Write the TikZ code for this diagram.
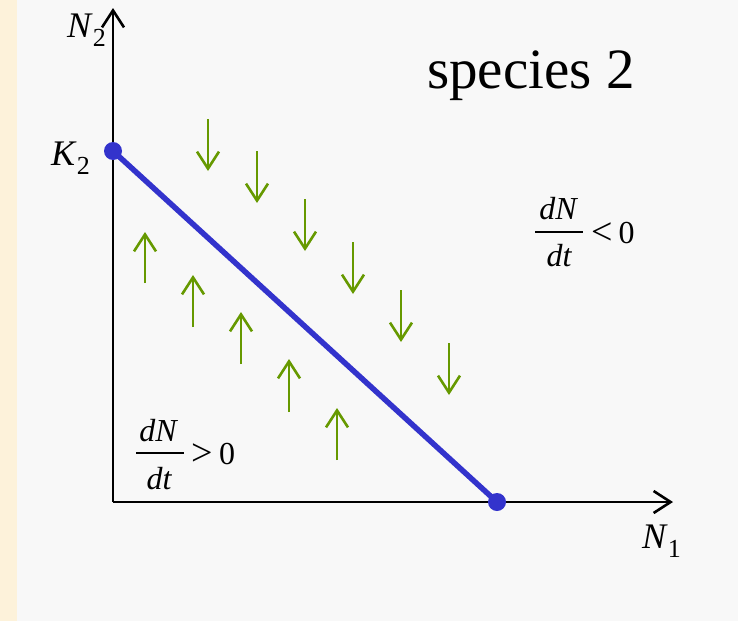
\documentclass[tikz,border=0pt]{standalone}
\usepackage{fontspec}
\setmainfont{Liberation Serif}
\usetikzlibrary{arrows.meta}
\definecolor{bgA}{HTML}{F8F8F8}
\definecolor{strip}{HTML}{FDF2DA}
\definecolor{lineblue}{HTML}{3333CC}
\definecolor{agreen}{HTML}{669900}
\tikzset{
  axis/.style={line width=2.6pt, black, -{Straight Barb[length=17pt,width=22pt]}},
  garrow/.style={line width=2.6pt, agreen, -{Straight Barb[length=17pt,width=22pt]}},
  iso/.style={line width=5.5pt, lineblue},
  dot/.style={circle, fill=lineblue, inner sep=0pt, minimum size=18pt},
  lbl/.style={inner sep=0pt, anchor=base west, font=\fontsize{36}{40}\selectfont},
  fracpart/.style={inner sep=0pt, anchor=base, font=\fontsize{32}{36}\selectfont\itshape},
  relpart/.style={inner sep=0pt, anchor=base, font=\fontsize{32}{36}\selectfont},
  relsym/.style={inner sep=0pt, anchor=base, font=\fontsize{38}{42}\selectfont},
  fracbar/.style={line width=1.8pt, black},
}
\newcommand{\subtwo}[1]{\raisebox{-9.5pt}{\fontsize{26}{28}\selectfont #1}}
\begin{document}
\begin{tikzpicture}[x=1pt,y=-1pt]
\useasboundingbox (0,0) rectangle (738,621);
\fill[bgA] (0,0) rectangle (738,621);
\fill[strip] (0,0) rectangle (17,621);
% axes
\coordinate (O) at (113,502);
\coordinate (ytip) at (113,8);
\coordinate (xtip) at (673,502);
\draw[axis] (O) -- (ytip);
\draw[axis] (O) -- (xtip);
% isocline
\node[dot] (K) at (113,151) {};
\node[dot] (E) at (497,502) {};
\draw[iso] (K.center) -- (E.center);
% labels
\node[lbl] (n2) at (67,37) {\textit{N}\subtwo{2}};
\node[lbl] (k2) at (51,165) {\textit{K}\subtwo{2}};
\node[lbl] (n1) at (642,548) {\textit{N}\subtwo{1}};
\node[inner sep=0pt, anchor=base west, font=\fontsize{57}{62}\selectfont] (sp) at (427,88) {species 2};
% dN/dt < 0
\node[fracpart] (negnum) at (558,219) {dN};
\node[fracpart] (negden) at (559,266) {dt};
\coordinate (negbarL) at (535,232);
\coordinate (negbarR) at (583,232);
\draw[fracbar] (negbarL) -- (negbarR);
\node[relsym] (negrel) at (602,244) {<};
\node[relpart] (negzero) at (626.5,243) {0};
% dN/dt > 0
\node[fracpart] (posnum) at (158,441) {dN};
\node[fracpart] (posden) at (159,489) {dt};
\coordinate (posbarL) at (136,453);
\coordinate (posbarR) at (184,453);
\draw[fracbar] (posbarL) -- (posbarR);
\node[relsym] (posrel) at (202,465) {>};
\node[relpart] (poszero) at (227,464) {0};
% down arrows
\foreach \i/\x/\a/\b in {1/208/119/171, 2/257/151/203, 3/305/199/251, 4/353/242/294, 5/401/290/342, 6/449/343/395}{
  \coordinate (d\i s) at (\x,\a);
  \coordinate (d\i e) at (\x,\b);
  \draw[garrow] (d\i s) -- (d\i e);
}
% up arrows
\foreach \i/\x/\a/\b in {1/145/283/232, 2/193/327/275, 3/241/364/312, 4/289/412/359, 5/337/460/408}{
  \coordinate (u\i s) at (\x,\a);
  \coordinate (u\i e) at (\x,\b);
  \draw[garrow] (u\i s) -- (u\i e);
}
\end{tikzpicture}
\end{document}
